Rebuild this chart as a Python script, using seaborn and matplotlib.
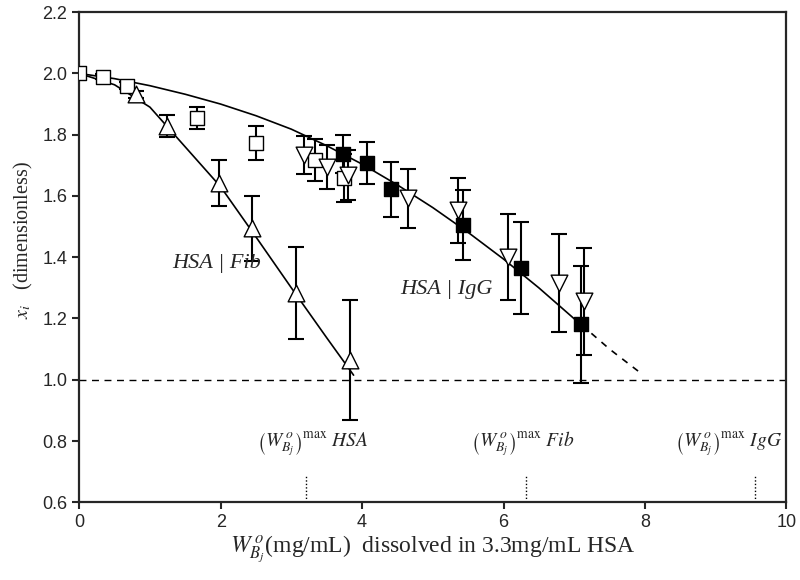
import numpy as np
import pandas as pd
import seaborn as sns
import matplotlib.pyplot as plt

sns.set_style("ticks")
plt.rcParams['font.family'] = ['Liberation Sans', 'DejaVu Sans']
plt.rcParams['mathtext.fontset'] = 'stix'

# open squares
sq_x = [0.0, 0.34, 0.68, 1.67, 2.50, 3.34, 3.75]
sq_y = [2.0, 1.99, 1.96, 1.854, 1.772, 1.717, 1.658]
sq_err = [0.0, 0.008, 0.012, 0.035, 0.055, 0.068, 0.078]

# open up-triangles (HSA/Fib)
tu_x = [0.81, 1.24, 1.97, 2.45, 3.06, 3.83]
tu_y = [1.932, 1.828, 1.641, 1.495, 1.282, 1.064]
tu_err = [0.012, 0.035, 0.075, 0.106, 0.15, 0.195]

# open down-triangles (HSA/IgG)
td_x = [3.18, 3.50, 3.80, 4.65, 5.36, 6.07, 6.79, 7.14]
td_y = [1.733, 1.694, 1.668, 1.592, 1.553, 1.40, 1.315, 1.256]
td_err = [0.062, 0.072, 0.082, 0.096, 0.106, 0.14, 0.16, 0.175]

# filled squares (HSA/IgG)
fs_x = [3.73, 4.07, 4.41, 5.42, 6.25, 7.09]
fs_y = [1.736, 1.707, 1.622, 1.505, 1.364, 1.181]
fs_err = [0.062, 0.068, 0.09, 0.115, 0.15, 0.19]

# fitted curves
igg_x = [0, 0.5, 1, 1.5, 2, 2.5, 3, 3.5, 4, 4.5, 5, 5.5, 6, 6.5, 7, 7.1]
igg_y = [2.0, 1.983, 1.960, 1.932, 1.900, 1.862, 1.818, 1.764, 1.704,
         1.636, 1.562, 1.481, 1.394, 1.300, 1.199, 1.18]
igg_ext_x = [7.1, 7.5, 7.95]
igg_ext_y = [1.18, 1.10, 1.02]
fib_x = [0, 0.5, 1, 1.5, 2, 2.5, 3, 3.5, 3.88]
fib_y = [2.0, 1.963, 1.89, 1.76, 1.63, 1.466, 1.30, 1.137, 1.015]

# (W)max marks and their labels
wmax_x = [3.2, 6.32, 9.55]
wmax_label_x = [3.31, 6.27, 9.18]
wmax_names = ["HSA", "Fib", "IgG"]

fig = plt.figure(figsize=(8, 5.8), dpi=100)
ax = fig.add_axes([0.099, 0.134, 0.884, 0.845])

sns.lineplot(x=igg_x, y=igg_y, color="black", lw=1.2, ax=ax, zorder=2)
sns.lineplot(x=igg_ext_x, y=igg_ext_y, color="black", lw=1.2, ls=(0, (4, 4)), ax=ax, zorder=2)
sns.lineplot(x=fib_x, y=fib_y, color="black", lw=1.2, ax=ax, zorder=2)

ax.axhline(1.0, color="black", lw=1.0, ls=(0, (5, 4)), zorder=1)
for xv in wmax_x:
    ax.plot([xv, xv], [0.6, 0.69], color="black", lw=1.0, ls=(0, (1, 1.5)))

series = [
    (sq_x, sq_y, sq_err, "s", "white", 10),
    (tu_x, tu_y, tu_err, "^", "white", 12),
    (td_x, td_y, td_err, "v", "white", 12),
    (fs_x, fs_y, fs_err, "s", "black", 10),
]
for xs, ys, es, mk, fc, ms in series:
    ax.errorbar(xs, ys, yerr=es, fmt="none", ecolor="black", elinewidth=1.5,
                capsize=5.5, capthick=1.5, zorder=3)
    df = pd.DataFrame({"x": xs, "y": ys})
    sns.scatterplot(data=df, x="x", y="y", marker=mk, s=ms ** 2, color=fc,
                    edgecolor="black", linewidth=1.0, ax=ax, zorder=4)

ax.text(1.94, 1.38, "HSA | Fib", family="Liberation Serif", style="italic",
        fontsize=16, ha="center", va="center")
ax.text(5.19, 1.295, "HSA | IgG", family="Liberation Serif", style="italic",
        fontsize=16, ha="center", va="center")

for xv, name in zip(wmax_label_x, wmax_names):
    ax.text(xv, 0.79,
            r"$\left(W^{\,o}_{B_j}\right)^{\mathrm{max}}\ \mathit{%s}$" % name,
            fontsize=14, ha="center", va="center")

ax.set_xlim(0, 10)
ax.set_ylim(0.6, 2.2)
ax.set_xticks([0, 2, 4, 6, 8, 10])
ax.set_yticks(np.arange(0.6, 2.21, 0.2))
ax.set_yticklabels(["%.1f" % v for v in np.arange(0.6, 2.21, 0.2)])
ax.tick_params(direction="out", length=5, width=1.5, labelsize=13,
               top=False, right=False)
for sp in ax.spines.values():
    sp.set_linewidth(1.6)

ax.set_xlabel(r"$W^{\,o}_{B_j}$(mg/mL)  dissolved in 3.3mg/mL HSA",
              family="Liberation Serif", fontsize=17, labelpad=2)
ax.set_ylabel(r"$x_i$   (dimensionless)", family="Liberation Serif",
              fontsize=14.5)
ax.yaxis.set_label_coords(-0.062, 0.535)

fig.savefig("out.png", dpi=100)
